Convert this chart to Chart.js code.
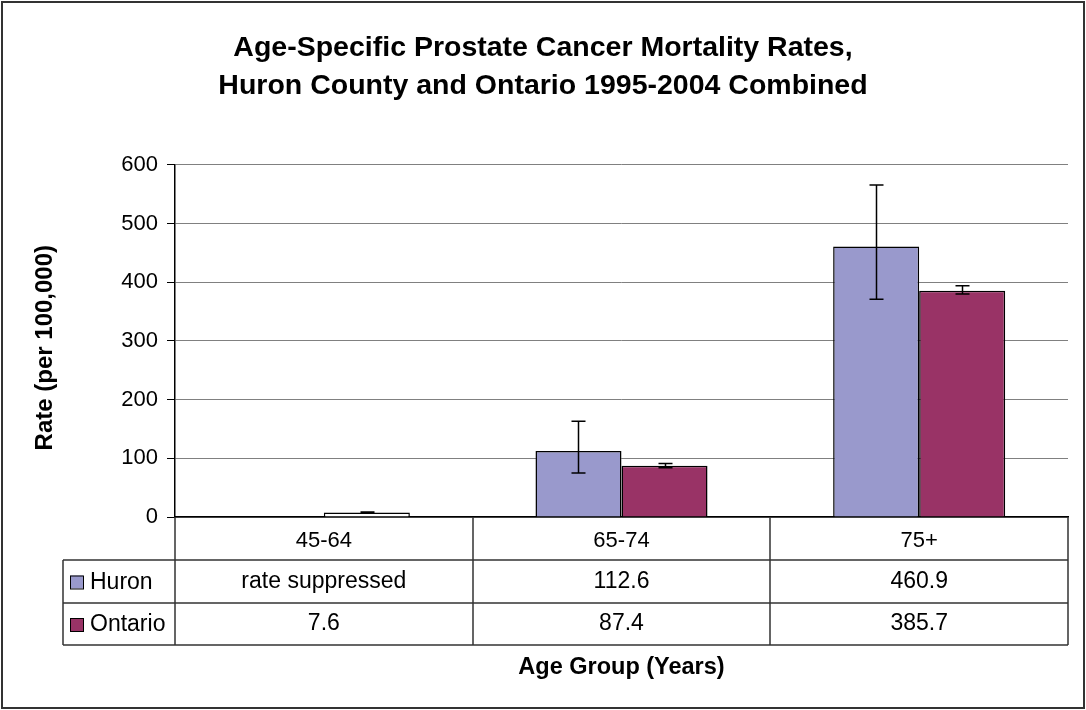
<!DOCTYPE html>
<html>
<head>
<meta charset="utf-8">
<script src="https://cdn.jsdelivr.net/npm/chart.js@4.4.1/dist/chart.umd.min.js"></script>
<style>
  html, body { margin: 0; padding: 0; background: #fff; }
  canvas { display: block; }
</style>
</head>
<body>
<canvas id="chart" width="1086" height="710"></canvas>
<script>
// data
var categories = ['45-64', '65-74', '75+'];
var huronRates = [null, 112.6, 460.9];
var ontarioRates = [7.6, 87.4, 385.7];
var huronLow = [null, 75, 371];
var huronHigh = [null, 163, 566];
var ontarioLow = [6.8, 84, 380];
var ontarioHigh = [8.4, 91, 394];
var huronTable = ['rate suppressed', '112.6', '460.9'];
var ontarioTable = ['7.6', '87.4', '385.7'];
var yTicks = [0, 100, 200, 300, 400, 500, 600];

var HURON = '#9999cc';
var ONTARIO = '#993366';
var FONT = "'Liberation Sans', Arial, sans-serif";

Chart.defaults.color = '#000';
Chart.defaults.font.family = FONT;

// error bars on top of the bars
var errorBars = {
  id: 'errorBars',
  afterDatasetsDraw: function(chart) {
    var ctx = chart.ctx;
    var y = chart.scales.y;
    ctx.save();
    ctx.strokeStyle = '#000';
    ctx.lineWidth = 1.5;
    chart.data.datasets.forEach(function(ds, i) {
      var meta = chart.getDatasetMeta(i);
      meta.data.forEach(function(bar, j) {
        var lo = ds.errLow[j], hi = ds.errHigh[j];
        if (lo == null || hi == null) return;
        var x = Math.round(bar.x) + 0.5;
        var y1 = y.getPixelForValue(lo), y2 = y.getPixelForValue(hi);
        ctx.beginPath();
        ctx.moveTo(x, y1); ctx.lineTo(x, y2);
        ctx.moveTo(x - 7, y1); ctx.lineTo(x + 7, y1);
        ctx.moveTo(x - 7, y2); ctx.lineTo(x + 7, y2);
        ctx.stroke();
      });
    });
    ctx.restore();
  }
};

// data table under the plot plus outer frame
var dataTable = {
  id: 'dataTable',
  afterDraw: function(chart) {
    var ctx = chart.ctx;
    var area = chart.chartArea;
    var xs = chart.scales.x;
    var rowH = 43;
    var top = area.bottom;
    var r1 = top + rowH, r2 = r1 + rowH, r3 = r2 + rowH - 1;
    var legendLeft = 63;
    var edges = [area.left];
    for (var i = 0; i < categories.length; i++) {
      edges.push(xs.getPixelForValue(i) + (xs.getPixelForValue(1) - xs.getPixelForValue(0)) / 2);
    }
    ctx.save();
    ctx.strokeStyle = '#333';
    ctx.lineWidth = 1.5;
    ctx.beginPath();
    [r1, r2, r3].forEach(function(yy) {
      ctx.moveTo(legendLeft, yy); ctx.lineTo(area.right, yy);
    });
    ctx.moveTo(legendLeft, r1); ctx.lineTo(legendLeft, r3);
    edges.forEach(function(xx) {
      xx = Math.round(xx);
      ctx.moveTo(xx, top); ctx.lineTo(xx, r3);
    });
    ctx.stroke();

    ctx.font = '23px ' + FONT;
    ctx.fillStyle = '#000';
    ctx.textBaseline = 'middle';
    var rows = [
      { label: 'Huron', color: HURON, vals: huronTable, y: (r1 + r2) / 2 },
      { label: 'Ontario', color: ONTARIO, vals: ontarioTable, y: (r2 + r3) / 2 }
    ];
    rows.forEach(function(row) {
      ctx.fillStyle = row.color;
      ctx.fillRect(70, row.y - 6, 13, 13);
      ctx.strokeStyle = '#000';
      ctx.lineWidth = 1;
      ctx.strokeRect(70.5, row.y - 5.5, 13, 13);
      ctx.fillStyle = '#000';
      ctx.textAlign = 'left';
      ctx.fillText(row.label, 90, row.y + 1);
      ctx.textAlign = 'center';
      row.vals.forEach(function(v, k) {
        ctx.fillText(v, xs.getPixelForValue(k), row.y);
      });
    });

    // outer chart frame
    ctx.strokeStyle = '#333';
    ctx.lineWidth = 2;
    ctx.strokeRect(2, 2, 1082, 706);
    ctx.restore();
  }
};

new Chart(document.getElementById('chart'), {
  type: 'bar',
  data: {
    labels: categories,
    datasets: [
      {
        label: 'Huron',
        data: huronRates,
        errLow: huronLow,
        errHigh: huronHigh,
        backgroundColor: HURON,
        borderColor: '#000',
        borderWidth: 1.5,
        categoryPercentage: 0.578,
        barPercentage: 1
      },
      {
        label: 'Ontario',
        data: ontarioRates,
        errLow: ontarioLow,
        errHigh: ontarioHigh,
        backgroundColor: ['#ffffff', ONTARIO, ONTARIO],
        borderColor: '#000',
        borderWidth: 1.5,
        categoryPercentage: 0.578,
        barPercentage: 1
      }
    ]
  },
  options: {
    responsive: false,
    animation: false,
    layout: { padding: { top: 0, right: 18, bottom: 0, left: 18 } },
    plugins: {
      legend: { display: false },
      tooltip: { enabled: false },
      title: {
        display: true,
        text: ['Age-Specific Prostate Cancer Mortality Rates,', 'Huron County and Ontario 1995-2004 Combined'],
        font: { size: 28.5, weight: 'bold', lineHeight: 1.333 },
        color: '#000',
        padding: { top: 29, bottom: 60 }
      }
    },
    scales: {
      x: {
        grid: { display: false, drawTicks: false },
        border: { display: true, color: '#000', width: 1.5 },
        ticks: { font: { size: 22 }, padding: 11 },
        title: {
          display: true,
          text: 'Age Group (Years)',
          font: { size: 23.5, weight: 'bold' },
          padding: { top: 0, bottom: 28 }
        },
        afterFit: function(scale) { scale.height = 193; }
      },
      y: {
        min: 0,
        max: 600,
        afterBuildTicks: function(scale) {
          scale.ticks = yTicks.map(function(v) { return { value: v }; });
        },
        grid: { color: '#808080', lineWidth: 1, tickColor: '#000', tickLength: 8 },
        border: { display: true, color: '#000', width: 1.5 },
        ticks: { font: { size: 22 }, padding: 9 },
        title: {
          display: true,
          // trailing spaces nudge the rotated title down a little, like the original
          text: 'Rate (per 100,000)\u00a0\u00a0',
          font: { size: 24, weight: 'bold' },
          padding: { top: 13, bottom: 0 }
        },
        afterFit: function(scale) { scale.width = 157; }
      }
    }
  },
  plugins: [errorBars, dataTable]
});
</script>
</body>
</html>
